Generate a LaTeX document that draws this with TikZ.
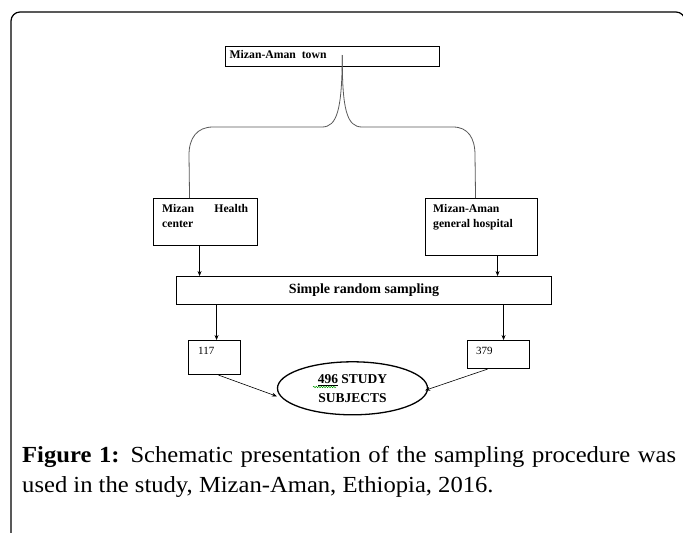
\documentclass[tikz,border=0pt]{standalone}
\usepackage{fontspec}
\setmainfont{Liberation Serif}
\newfontfamily\capfont[FakeStretch=1.07]{Liberation Serif}
\usetikzlibrary{shapes.geometric,arrows.meta,decorations.pathmorphing}

\tikzset{
  box/.style={draw, line width=1.1pt, inner sep=0pt, anchor=north west},
  intext/.style={anchor=north west, inner sep=0pt, font=\fontsize{11.7}{15}\selectfont\bfseries},
  brace/.style={draw=black!65, line width=0.8pt},
  arr/.style={-{Stealth[length=5pt,width=4pt]}, line width=0.6pt}
}

\begin{document}
\begin{tikzpicture}[x=1pt,y=-1pt]
\useasboundingbox (0,0) rectangle (683,533);
\draw[line width=1.2pt, rounded corners=9pt] (11,545) -- (11,12) -- (685,12) -- (685,545);

\node[box, minimum width=214pt, minimum height=20pt,
  label={[intext, xshift=4.5pt, yshift=-4pt]north west:Mizan-Aman~~town}] (town) at (225,46) {};
\node[box, minimum width=104pt, minimum height=47pt,
  label={[intext, text width=86pt, align=justify, xshift=9pt, yshift=-6pt]north west:Mizan Health center}] (health) at (153,198) {};
\node[box, minimum width=112pt, minimum height=57pt,
  label={[intext, align=left, xshift=8pt, yshift=-6pt]north west:Mizan-Aman\\general hospital}] (hospital) at (425,198) {};
\node[box, minimum width=375pt, minimum height=28pt, font=\fontsize{14}{16}\selectfont\bfseries] (sampling) at (176,276) {Simple random sampling};
\node[box, minimum width=52pt, minimum height=34pt,
  label={[intext, font=\fontsize{11}{13}\selectfont, xshift=10pt, yshift=-7pt]north west:117}] (n117) at (188,340) {};
\node[box, minimum width=62pt, minimum height=28pt,
  label={[intext, font=\fontsize{11}{13}\selectfont, xshift=9pt, yshift=-7pt]north west:379}] (n379) at (467,340) {};
\node[draw, ellipse, line width=1.3pt, minimum width=150pt, minimum height=53pt, align=center,
  font=\fontsize{13.5}{19}\selectfont\bfseries] (subjects) at (352.5,388.3) {\underline{496} STUDY\\SUBJECTS};
\draw[green!60!black, line width=0.5pt, decorate, decoration={snake, amplitude=0.7pt, segment length=2.5pt}] (313,387) -- (336,387);

% brace from the town
\coordinate (tip) at (342.3,55);
\draw[brace] (tip) .. controls (342,110) and (337,127) .. (322,127) -- (213,127)
  .. controls (197,127) and (189,138) .. (189,155) -- ([xshift=-16pt]health.north);
\draw[brace] (tip) .. controls (342,110) and (347,127) .. (362,127) -- (453,127)
  .. controls (468,127) and (475,138) .. (475,155) -- ([xshift=-6pt]hospital.north);

\draw[arr] ([xshift=-6pt]health.south) -- ([xshift=-6pt]health.south |- sampling.north);
\draw[arr] ([xshift=16pt]hospital.south) -- ([xshift=16pt]hospital.south |- sampling.north);
\draw[arr] ([xshift=2pt]n117.north |- sampling.south) -- ([xshift=2pt]n117.north);
\draw[arr] ([xshift=5pt]n379.north |- sampling.south) -- ([xshift=5pt]n379.north);
\draw[arr] ([xshift=4pt]n117.south) -- ([yshift=-8pt]subjects.west);
\draw[arr] ([xshift=-11pt]n379.south) -- ([xshift=-3pt,yshift=-2pt]subjects.east);

\node[anchor=north west, text width=654pt, align=justify, inner sep=0pt,
  font=\capfont\fontsize{23}{30}\selectfont] (caption) at (22,446)
  {\textbf{Figure 1:} Schematic presentation of the sampling procedure was\linebreak used in the study, Mizan-Aman, Ethiopia, 2016.};
\end{tikzpicture}
\end{document}
